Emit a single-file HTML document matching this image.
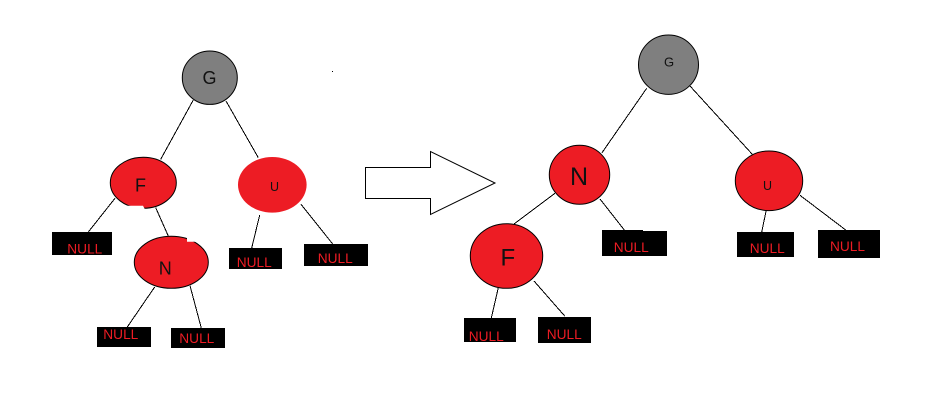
<!DOCTYPE html>
<html>
<head>
<meta charset="utf-8">
<style>
html,body{margin:0;padding:0;background:#fff;}
svg{display:block;}
text{font-family:"Liberation Sans",sans-serif;}
.n{fill:#ed1c24;font-size:14px;}
.k{fill:#111;}
.b{fill:#000;}
line{stroke:#000;stroke-width:1;shape-rendering:crispEdges;}
ellipse.s{stroke:#000;stroke-width:1;}
</style>
</head>
<body>
<svg width="950" height="406" viewBox="0 0 950 406" xmlns="http://www.w3.org/2000/svg">
<rect width="950" height="406" fill="#fff"/>

<!-- left connectors -->
<line x1="193.3" y1="100" x2="160.7" y2="159.3"/>
<line x1="226" y1="101" x2="258.3" y2="157.7"/>
<line x1="115" y1="198.3" x2="88.3" y2="232"/>
<line x1="155.7" y1="207.7" x2="168.3" y2="236"/>
<line x1="259.7" y1="215" x2="251.7" y2="248"/>
<line x1="301" y1="204.3" x2="332.7" y2="244"/>
<line x1="154.7" y1="287" x2="127.3" y2="327"/>
<line x1="190" y1="285.7" x2="201.3" y2="328"/>

<!-- left nodes -->
<ellipse class="s" cx="209.8" cy="77.7" rx="27.5" ry="26.7" fill="#7f7f7f"/>
<ellipse class="s" cx="143.3" cy="182.8" rx="33" ry="25.5" fill="#ed1c24"/>
<polygon points="124,205.8 143,205.8 145,209.5 124,209.5" fill="#fff"/>
<ellipse cx="272.3" cy="184.8" rx="34.3" ry="27.8" fill="#ed1c24"/>
<ellipse class="s" cx="171.3" cy="262.3" rx="37" ry="26" fill="#ed1c24"/>
<polygon points="187,235 187,241.8 197,241.8 203,246 204,235" fill="#fff"/>

<text class="k" x="202.5" y="84" font-size="18">G</text>
<text class="k" x="135" y="191.7" font-size="18">F</text>
<text class="k" x="158.7" y="274.3" font-size="18">N</text>
<text class="k" x="270" y="191" font-size="12.5">U</text>

<!-- left null boxes -->
<rect class="b" x="52" y="232" width="60" height="23"/>
<text class="n" x="67.3" y="253.3" textLength="35" lengthAdjust="spacingAndGlyphs">NULL</text>
<rect class="b" x="229" y="248" width="53" height="21"/>
<text class="n" x="236.7" y="267" textLength="35" lengthAdjust="spacingAndGlyphs">NULL</text>
<rect class="b" x="304" y="244" width="64" height="22"/>
<text class="n" x="317.7" y="263" textLength="35" lengthAdjust="spacingAndGlyphs">NULL</text>
<rect class="b" x="97" y="327" width="54" height="20"/>
<text class="n" x="103.3" y="339" textLength="35" lengthAdjust="spacingAndGlyphs">NULL</text>
<rect class="b" x="171" y="328" width="54" height="20"/>
<text class="n" x="179.3" y="343" textLength="35" lengthAdjust="spacingAndGlyphs">NULL</text>

<!-- stray dot -->
<rect x="332" y="71" width="1" height="1" fill="#000"/>

<!-- arrow -->
<polygon points="365.5,167.5 430.5,167.5 430.5,151.5 495,183 430.5,214.5 430.5,198.5 365.5,198.5" fill="#fff" stroke="#000" stroke-width="1"/>

<!-- right connectors -->
<line x1="646.7" y1="88.3" x2="602" y2="152.7"/>
<line x1="690" y1="86" x2="752.3" y2="154.3"/>
<line x1="555" y1="193.3" x2="514" y2="224"/>
<line x1="600" y1="199" x2="624.3" y2="230"/>
<line x1="498.3" y1="287.7" x2="491.3" y2="318"/>
<line x1="534" y1="281" x2="564.7" y2="316"/>
<line x1="766.3" y1="210" x2="761.7" y2="232"/>
<line x1="800" y1="195.3" x2="845.7" y2="230"/>

<!-- right nodes -->
<ellipse class="s" cx="668.5" cy="64.7" rx="30" ry="29.7" fill="#7f7f7f"/>
<ellipse class="s" cx="579.5" cy="174.8" rx="30.2" ry="29.5" fill="#ed1c24"/>
<ellipse class="s" cx="506.5" cy="256" rx="36.2" ry="32.3" fill="#ed1c24"/>
<ellipse class="s" cx="769" cy="180.8" rx="33.7" ry="29.8" fill="#ed1c24"/>

<text class="k" x="664" y="66.7" font-size="13">G</text>
<text class="k" x="570" y="185" font-size="25">N</text>
<text class="k" x="500.5" y="265.7" font-size="24">F</text>
<text class="k" x="763" y="190" font-size="12.5">U</text>

<!-- right null boxes -->
<rect class="b" x="602" y="230" width="41" height="26"/>
<rect class="b" x="643" y="231" width="24" height="25"/>
<text class="n" x="613.7" y="252" textLength="35" lengthAdjust="spacingAndGlyphs">NULL</text>
<rect class="b" x="464" y="318" width="52" height="24"/>
<text class="n" x="468.7" y="341" textLength="35" lengthAdjust="spacingAndGlyphs">NULL</text>
<rect class="b" x="538" y="317" width="53" height="26"/>
<text class="n" x="546.7" y="339" textLength="35" lengthAdjust="spacingAndGlyphs">NULL</text>
<rect class="b" x="737" y="232" width="57" height="25"/>
<text class="n" x="749.7" y="253" textLength="35" lengthAdjust="spacingAndGlyphs">NULL</text>
<rect class="b" x="818" y="230" width="62" height="28"/>
<text class="n" x="830" y="251" textLength="35" lengthAdjust="spacingAndGlyphs">NULL</text>
</svg>
</body>
</html>
